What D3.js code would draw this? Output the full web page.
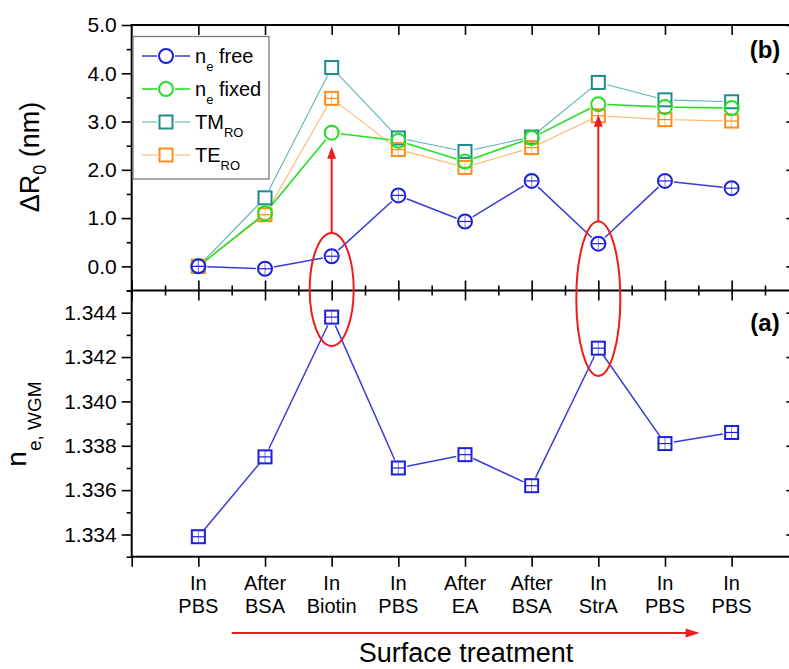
<!DOCTYPE html>
<html><head><meta charset="utf-8">
<script src="https://cdn.jsdelivr.net/npm/d3@7"></script>
<style>
body{margin:0;background:#fff}
svg{display:block}
text{font-family:"Liberation Sans",Arial,Helvetica,sans-serif;fill:#000}
</style>
</head><body>
<svg id="chart" width="789" height="669"></svg>
<script>
// ---------------- data ----------------
const categories = [["In","PBS"],["After","BSA"],["In","Biotin"],["In","PBS"],["After","EA"],["After","BSA"],["In","StrA"],["In","PBS"],["In","PBS"]];
const neFree  = [0.00,-0.05,0.21,1.47,0.93,1.77,0.47,1.77,1.62];
const neFixed = [0.00, 1.10,2.77,2.60,2.17,2.66,3.36,3.30,3.28];
const tmRO    = [0.00, 1.42,4.12,2.66,2.38,2.68,3.81,3.45,3.41];
const teRO    = [0.00, 1.07,3.48,2.42,2.05,2.46,3.12,3.04,3.01];
const neWGM   = [1.3339,1.3375,1.3438,1.3370,1.3376,1.3362,1.3424,1.3381,1.3386];
const topTicks = [0,1,2,3,4,5];
const topMinor = [-0.5,0.5,1.5,2.5,3.5,4.5];
const botTicks = [1.334,1.336,1.338,1.340,1.342,1.344];
const botMinor = [1.333,1.335,1.337,1.339,1.341,1.343,1.345];
// annotations (category index, values on the panels' scales)
const ellipses = [{i:2, top:0.69, bottom:1.3425},{i:6, top:0.93, bottom:1.34115}];
const arrowsUp = [{i:2, from:0.69, to:2.48},{i:6, from:0.93, to:3.14}];
const treatArrow = [0.5, 7.52];

// ---------------- layout ----------------
const svg = d3.select("#chart");
const X0 = 131.7, X1 = 798.3, YT = 25, YD = 290.5, YB = 556.7;
const x  = d3.scaleLinear().domain([-1,9]).range([X0,X1]);
const yT = d3.scaleLinear().domain([-0.5,5]).range([YD,YT]);
const yB = d3.scaleLinear().domain([1.333,1.345]).range([YB,YD]);
const idx = d3.range(categories.length);
const RED = "#ee1c1c";

function cleanAxis(g){ g.select(".domain").remove(); g.selectAll(".tick line").attr("stroke","#000").attr("stroke-width",1.6); }

// y axes (left)
svg.append("g").attr("transform",`translate(${X0},0)`)
  .call(d3.axisLeft(yT).tickValues(topTicks).tickSize(10).tickPadding(5).tickFormat(d3.format(".1f")))
  .call(cleanAxis).selectAll("text").style("font-size","21px");
svg.append("g").attr("transform",`translate(${X0},0)`)
  .call(d3.axisLeft(yT).tickValues(topMinor).tickSize(5).tickFormat("")).call(cleanAxis);
svg.append("g").attr("transform",`translate(${X0},0)`)
  .call(d3.axisLeft(yB).tickValues(botTicks).tickSize(10).tickPadding(5).tickFormat(d3.format(".3f")))
  .call(cleanAxis).selectAll("text").style("font-size","21px");
svg.append("g").attr("transform",`translate(${X0},0)`)
  .call(d3.axisLeft(yB).tickValues(botMinor).tickSize(5).tickFormat("")).call(cleanAxis);
// right spine inward ticks
svg.append("g").attr("transform",`translate(${X1},0)`)
  .call(d3.axisLeft(yT).tickValues(topTicks).tickSize(12).tickFormat("")).call(cleanAxis);
svg.append("g").attr("transform",`translate(${X1},0)`)
  .call(d3.axisLeft(yB).tickValues(botTicks).tickSize(12).tickFormat("")).call(cleanAxis);

// x axes
const majorX = d3.range(-1,10);
const minorX = d3.range(-0.5,9,1);
svg.append("g").attr("transform",`translate(0,${YT})`)
  .call(d3.axisBottom(x).tickValues(idx).tickSize(10).tickFormat("")).call(cleanAxis);
svg.append("g").attr("transform",`translate(0,${YD})`)
  .call(d3.axisTop(x).tickValues(majorX).tickSize(10).tickFormat("")).call(cleanAxis);
svg.append("g").attr("transform",`translate(0,${YD})`)
  .call(d3.axisTop(x).tickValues(minorX).tickSize(5).tickFormat("")).call(cleanAxis);
svg.append("g").attr("transform",`translate(0,${YD})`)
  .call(d3.axisBottom(x).tickValues(majorX).tickSize(10).tickFormat("")).call(cleanAxis);
svg.append("g").attr("transform",`translate(0,${YD})`)
  .call(d3.axisBottom(x).tickValues(minorX).tickSize(5).tickFormat("")).call(cleanAxis);
svg.append("g").attr("transform",`translate(0,${YB})`)
  .call(d3.axisBottom(x).tickValues(d3.range(-1,9)).tickSize(10).tickFormat("")).call(cleanAxis);
// category labels
const lab = svg.append("g");
idx.forEach(i=>{
  const t = lab.append("text").attr("text-anchor","middle").style("font-size","20px");
  t.append("tspan").attr("x",x(i)).attr("y",590).text(categories[i][0]);
  t.append("tspan").attr("x",x(i)).attr("y",613).text(categories[i][1]);
});

// frame
const frame = svg.append("g").attr("stroke","#000").attr("stroke-width",2).attr("fill","none");
frame.append("rect").attr("x",X0).attr("y",YT).attr("width",X1-X0).attr("height",YB-YT);
frame.append("line").attr("x1",X0).attr("x2",X1).attr("y1",YD).attr("y2",YD);

// ---------------- series ----------------
const GAP = 9;
function gappedLine(g, xs, ys, color, w){
  for(let i=0;i<xs.length-1;i++){
    const dx=xs[i+1]-xs[i], dy=ys[i+1]-ys[i], L=Math.hypot(dx,dy);
    if(L<=2*GAP) continue;
    const ux=dx/L, uy=dy/L;
    g.append("line").attr("x1",xs[i]+ux*GAP).attr("y1",ys[i]+uy*GAP)
      .attr("x2",xs[i+1]-ux*GAP).attr("y2",ys[i+1]-uy*GAP)
      .attr("stroke",color).attr("stroke-width",w);
  }
}
function marker(g, cx, cy, shape, color, inner){
  if(shape==="circle"){
    g.append("circle").attr("cx",cx).attr("cy",cy).attr("r",7).attr("fill","none").attr("stroke",color).attr("stroke-width",2);
  } else {
    g.append("rect").attr("x",cx-6.5).attr("y",cy-6.5).attr("width",13).attr("height",13).attr("fill","none").attr("stroke",color).attr("stroke-width",2);
  }
  if(inner){
    g.append("line").attr("x1",cx-6).attr("x2",cx+6).attr("y1",cy).attr("y2",cy).attr("stroke",color).attr("stroke-width",1.2);
    g.append("line").attr("x1",cx).attr("x2",cx).attr("y1",cy-6).attr("y2",cy+6).attr("stroke",color).attr("stroke-width",1).attr("opacity",0.55);
  }
}
const seriesTop = [
  {vals:tmRO,   shape:"square", mc:"#1f8b8b", lc:"#5fb3b3", lw:1.1, inner:false},
  {vals:teRO,   shape:"square", mc:"#ff8c1a", lc:"#ffb56a", lw:1.1, inner:true},
  {vals:neFixed,shape:"circle", mc:"#22e022", lc:"#22e022", lw:1.6, inner:false},
  {vals:neFree, shape:"circle", mc:"#1e1ee0", lc:"#3a3ad8", lw:1.5, inner:true}
];
const gS = svg.append("g");
seriesTop.forEach(s=>{
  gappedLine(gS, idx.map(i=>x(i)), s.vals.map(v=>yT(v)), s.lc, s.lw);
});
seriesTop.forEach(s=>{
  s.vals.forEach((v,i)=>marker(gS, x(i), yT(v), s.shape, s.mc, s.inner));
});
gappedLine(gS, idx.map(i=>x(i)), neWGM.map(v=>yB(v)), "#3a3ad8", 1.5);
neWGM.forEach((v,i)=>marker(gS, x(i), yB(v), "square", "#1e1ee0", true));

// ---------------- annotations ----------------
const gA = svg.append("g");
ellipses.forEach(e=>{
  const t=yT(e.top), b=yB(e.bottom);
  gA.append("ellipse").attr("cx",x(e.i)).attr("cy",(t+b)/2).attr("rx",22).attr("ry",(b-t)/2)
    .attr("fill","none").attr("stroke",RED).attr("stroke-width",2);
});
arrowsUp.forEach(a=>{
  const cx=x(a.i), y0=yT(a.from), y1=yT(a.to);
  gA.append("line").attr("x1",cx).attr("x2",cx).attr("y1",y0).attr("y2",y1+10).attr("stroke",RED).attr("stroke-width",2);
  gA.append("path").attr("d",`M${cx},${y1} L${cx-4.5},${y1+12} L${cx+4.5},${y1+12} Z`).attr("fill",RED);
});
{
  const ax0=x(treatArrow[0]), ax1=x(treatArrow[1]), ay=633;
  gA.append("line").attr("x1",ax0).attr("x2",ax1-12).attr("y1",ay).attr("y2",ay).attr("stroke",RED).attr("stroke-width",2);
  gA.append("path").attr("d",`M${ax1},${ay} L${ax1-14},${ay-4.5} L${ax1-14},${ay+4.5} Z`).attr("fill",RED);
}

// ---------------- legend ----------------
const lg = svg.append("g");
lg.append("rect").attr("x",133).attr("y",36.5).attr("width",136).attr("height",142.5)
  .attr("fill","#fff").attr("stroke","#7a7a7a").attr("stroke-width",1.3);
const legendItems = [
  {main:"n", sub:"e", rest:" free", s:seriesTop[3]},
  {main:"n", sub:"e", rest:" fixed", s:seriesTop[2]},
  {main:"TM", sub:"RO", rest:"", s:seriesTop[0]},
  {main:"TE", sub:"RO", rest:"", s:seriesTop[1]}
];
legendItems.forEach((it,k)=>{
  const yy = 56 + 33*k, mx = 166;
  lg.append("line").attr("x1",142).attr("x2",mx-GAP).attr("y1",yy).attr("y2",yy).attr("stroke",it.s.lc).attr("stroke-width",it.s.lw);
  lg.append("line").attr("x1",mx+GAP).attr("x2",190).attr("y1",yy).attr("y2",yy).attr("stroke",it.s.lc).attr("stroke-width",it.s.lw);
  marker(lg, mx, yy, it.s.shape, it.s.mc, false);
  const t = lg.append("text").attr("x",195).attr("y",yy+7).style("font-size","20px");
  t.append("tspan").text(it.main);
  t.append("tspan").attr("dy",8).style("font-size","13px").text(it.sub);
  if(it.rest) t.append("tspan").attr("dy",-8).text(it.rest);
});

// ---------------- panel tags and titles ----------------
svg.append("text").attr("x",765).attr("y",58).attr("text-anchor","middle").style("font-size","24px").style("font-weight","bold").text("(b)");
svg.append("text").attr("x",765).attr("y",331).attr("text-anchor","middle").style("font-size","24px").style("font-weight","bold").text("(a)");

const yl1 = svg.append("text").attr("transform","translate(39,157) rotate(-90)").attr("text-anchor","middle").style("font-size","27px");
yl1.append("tspan").text("\u0394R");
yl1.append("tspan").attr("dy",7).style("font-size","18px").text("0");
yl1.append("tspan").attr("dy",-7).text(" (nm)");

const yl2 = svg.append("text").attr("transform","translate(26,424) rotate(-90)").attr("text-anchor","middle").style("font-size","28px");
yl2.append("tspan").text("n");
yl2.append("tspan").attr("dy",15).style("font-size","19px").text("e, WGM");

svg.append("text").attr("x",466).attr("y",662).attr("text-anchor","middle").style("font-size","27px").text("Surface treatment");
</script>
</body></html>
